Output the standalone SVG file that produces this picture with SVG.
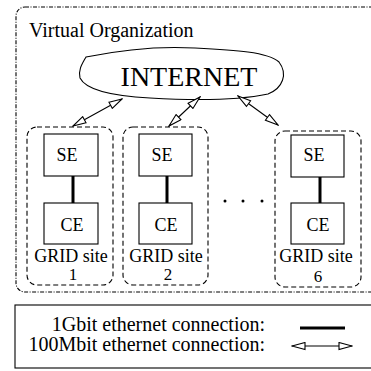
<svg xmlns="http://www.w3.org/2000/svg" width="371" height="371" viewBox="0 0 371 371">
<style>
text{font-family:'Liberation Serif','Times New Roman',Tinos,'DejaVu Serif',serif;fill:#000}
.box{fill:#fff;stroke:#000;stroke-width:1.1}
.site{fill:none;stroke:#000;stroke-width:1.1;stroke-dasharray:5,3}
.gb{stroke:#000;stroke-width:3}
.mb{stroke:#000;stroke-width:1.1;fill:none;marker-start:url(#ah);marker-end:url(#ah)}
.lbl{font-size:18px;text-anchor:middle}
.num{font-size:17px;text-anchor:middle}
.leg{font-size:20px;text-anchor:end}
</style>
<defs>
<marker id="ah" viewBox="0 0 15 9" refX="14" refY="4.5" markerWidth="15" markerHeight="9" markerUnits="userSpaceOnUse" orient="auto-start-reverse">
<path d="M1,1 L14,4.5 L1,8 Z" fill="#fff" stroke="#000" stroke-width="1.1"/>
</marker>
</defs>
<g id="vo">
<rect x="16" y="7" width="380" height="285" rx="9" fill="none" stroke="#000" stroke-width="1.1" stroke-dasharray="4,1.5,1,1.5"/>
<text x="29" y="37" font-size="20">Virtual Organization</text>
</g>
<g id="internet">
<path d="M86,57 C120,50 160,46 195,48 C235,50 268,52 279,62 C288,74 283,88 268,94 C235,101 185,100 150,98 C112,96 86,90 80,78 C78,70 82,64 86,57 Z" fill="#fff" stroke="#000" stroke-width="1.1"/>
<text x="189" y="86" font-size="28" text-anchor="middle">INTERNET</text>
</g>
<g id="site1">
<rect class="site" x="27" y="127" width="86" height="158" rx="10"/>
<text class="lbl" x="71" y="262">GRID site</text>
<text class="num" x="73" y="280">1</text>
</g>
<g id="se1"><rect class="box" x="44" y="134" width="54" height="42"/><text class="lbl" x="67" y="161">SE</text></g>
<g id="ce1"><rect class="box" x="44" y="203" width="54" height="41"/><text class="lbl" x="72" y="231">CE</text></g>
<g id="site2">
<rect class="site" x="123" y="127" width="85" height="158" rx="10"/>
<text class="lbl" x="166" y="262">GRID site</text>
<text class="num" x="168" y="280">2</text>
</g>
<g id="se2"><rect class="box" x="139" y="134" width="53" height="42"/><text class="lbl" x="162" y="161">SE</text></g>
<g id="ce2"><rect class="box" x="139" y="203" width="53" height="41"/><text class="lbl" x="166" y="231">CE</text></g>
<g id="site6">
<rect class="site" x="275" y="131" width="86" height="156" rx="10"/>
<text class="lbl" x="316" y="262">GRID site</text>
<text class="num" x="318" y="282">6</text>
</g>
<g id="se6"><rect class="box" x="291" y="135" width="53" height="42"/><text class="lbl" x="314" y="161">SE</text></g>
<g id="ce6"><rect class="box" x="291" y="203" width="53" height="41"/><text class="lbl" x="318" y="231">CE</text></g>
<g id="dots">
<circle cx="225" cy="201" r="1.5"/><circle cx="243" cy="201" r="1.5"/><circle cx="262" cy="201" r="1.5"/>
</g>
<g id="connectors">
<line class="gb" x1="73" y1="176" x2="73" y2="203"/>
<line class="gb" x1="167" y1="176" x2="167" y2="203"/>
<line class="gb" x1="320" y1="177" x2="320" y2="203"/>
<line class="mb" x1="122" y1="99" x2="73" y2="126"/>
<line class="mb" x1="200" y1="97" x2="169" y2="126"/>
<line class="mb" x1="238" y1="96" x2="278" y2="125"/>
</g>
<g id="legend">
<rect x="15" y="305" width="380" height="63" fill="none" stroke="#000" stroke-width="1.1"/>
<text class="leg" x="265" y="331">1Gbit ethernet connection:</text>
<text class="leg" x="265" y="351">100Mbit ethernet connection:</text>
<line class="gb" x1="300" y1="328" x2="345" y2="328"/>
<line class="mb" x1="292" y1="346" x2="352" y2="346"/>
</g>
</svg>
